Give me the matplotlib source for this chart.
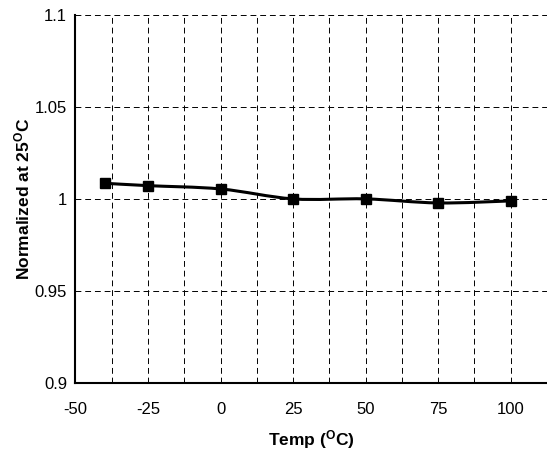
import matplotlib
matplotlib.use('Agg')
import matplotlib.pyplot as plt
from matplotlib.path import Path
from matplotlib.patches import PathPatch
import numpy as np

plt.rcParams['font.family'] = ['Liberation Sans', 'DejaVu Sans']
plt.rcParams['mathtext.fontset'] = 'custom'
plt.rcParams['mathtext.rm'] = 'Liberation Sans'
plt.rcParams['mathtext.bf'] = 'Liberation Sans:bold'
plt.rcParams['axes.unicode_minus'] = False

temps = [-40, -25, 0, 25, 50, 75, 100]
normalized = [1.0085, 1.0072, 1.0054, 1.0000, 1.0000, 0.9978, 0.9989]
xticks = [-50, -25, 0, 25, 50, 75, 100]
yticks = [0.9, 0.95, 1.0, 1.05, 1.1]
ylabels = ['0.9', '0.95', '1', '1.05', '1.1']

fig = plt.figure(figsize=(5.47, 4.51), dpi=100)
ax = fig.add_axes([0.138, 0.151, 0.862, 0.816])

# smoothed line (bezier through the points, like the spreadsheet "smooth line")
pts = np.column_stack([temps, normalized])
verts = [pts[0]]
codes = [Path.MOVETO]
n = len(pts)
for i in range(n - 1):
    p0 = pts[i - 1] if i > 0 else pts[i]
    p1 = pts[i]
    p2 = pts[i + 1]
    p3 = pts[i + 2] if i + 2 < n else pts[i + 1]
    c1 = p1 + (p2 - p0) / 6
    c2 = p2 - (p3 - p1) / 6
    verts += [c1, c2, p2]
    codes += [Path.CURVE4] * 3
ax.add_patch(PathPatch(Path(verts, codes), fill=False, edgecolor='black', lw=2.2, zorder=3))
ax.plot(temps, normalized, 's', color='black', markersize=7.5, zorder=4)

ax.set_xlim(-50, 111.6)
ax.set_ylim(0.9, 1.1)
ax.set_xticks(xticks)
ax.set_xticks(np.arange(-37.5, 112.6, 12.5), minor=True)
ax.set_yticks(yticks)
ax.set_yticklabels(ylabels)
ax.grid(True, which='both', axis='x', color='black', linestyle=(0, (6, 4)), lw=0.7)
ax.grid(True, which='major', axis='y', color='black', linestyle=(0, (6, 4)), lw=0.7)
ax.tick_params(which='both', length=0, labelsize=12)
ax.tick_params(axis='x', pad=14)
ax.tick_params(axis='y', pad=6)
for s in ['top', 'right']:
    ax.spines[s].set_visible(False)
for s in ['left', 'bottom']:
    ax.spines[s].set_linewidth(1.5)

ax.set_xlabel(r'Temp ($\mathbf{^{O}}$C)', fontsize=12.5, fontweight='bold', labelpad=8)
ax.set_ylabel(r'Normalized at 25$\mathbf{^{O}}$C', fontsize=12.5, fontweight='bold', labelpad=2)

fig.savefig('out.png', dpi=100)
